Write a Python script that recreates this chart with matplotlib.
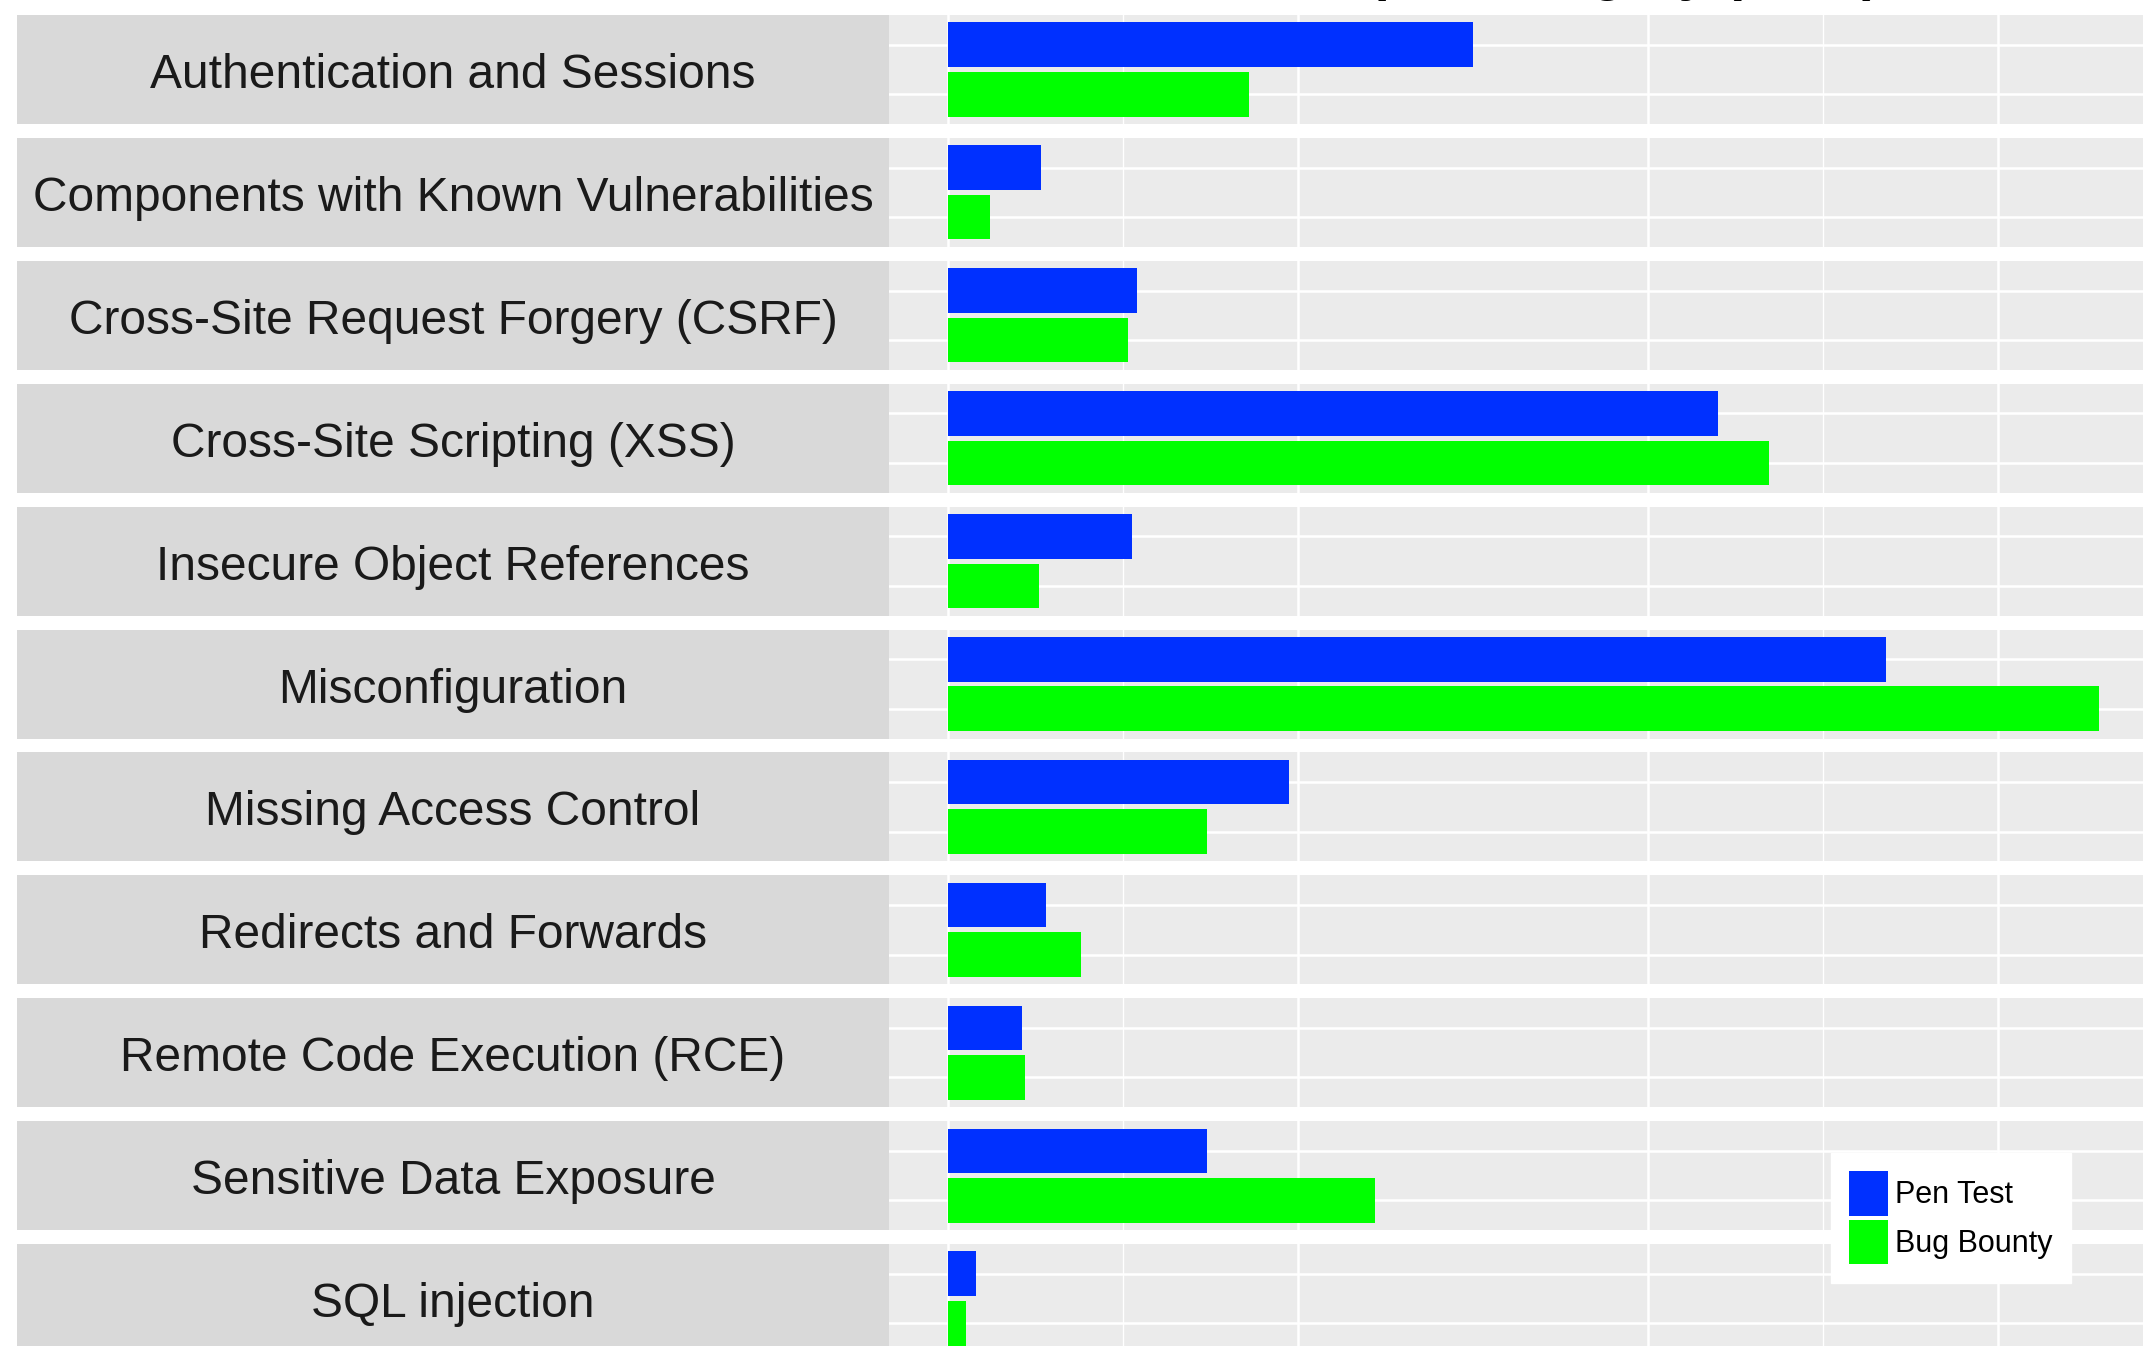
import matplotlib.pyplot as plt
from matplotlib.patches import Patch

# values (share of findings, %)
categories = [
    "Authentication and Sessions",
    "Components with Known Vulnerabilities",
    "Cross-Site Request Forgery (CSRF)",
    "Cross-Site Scripting (XSS)",
    "Insecure Object References",
    "Misconfiguration",
    "Missing Access Control",
    "Redirects and Forwards",
    "Remote Code Execution (RCE)",
    "Sensitive Data Exposure",
    "SQL injection",
]
pen_test = [15.0, 2.65, 5.4, 22.0, 5.25, 26.8, 9.75, 2.8, 2.1, 7.4, 0.8]
bug_bounty = [8.6, 1.2, 5.15, 23.45, 2.6, 32.9, 7.4, 3.8, 2.2, 12.2, 0.5]
series = ["Pen Test", "Bug Bounty"]
colors = ["#0030ff", "#00ff00"]

plt.rcParams['font.family'] = ['Liberation Sans', 'DejaVu Sans']

W, H = 2143, 1346
fig = plt.figure(figsize=(W / 100, H / 100), dpi=100)

# facet layout in pixels
top0 = 15          # top of first panel
step = 122.9       # panel + gap
ph = 109           # panel height
strip_l, strip_r = 17, 889
panel_r = 2157     # panel runs past the right edge (cropped)

for i, cat in enumerate(categories):
    top = top0 + i * step
    bottom = H - (top + ph)

    # strip on the left
    sax = fig.add_axes([strip_l / W, bottom / H, (strip_r - strip_l) / W, ph / H])
    sax.set_facecolor("#d9d9d9")
    sax.set_xlim(0, 1)
    sax.set_ylim(0, 1)
    sax.set_xticks([])
    sax.set_yticks([])
    for s in sax.spines.values():
        s.set_visible(False)
    sax.text(0.5, 0.33, cat, ha="center", va="baseline", fontsize=34.5, color="#1a1a1a")

    # panel
    ax = fig.add_axes([strip_r / W, bottom / H, (panel_r - strip_r) / W, ph / H])
    ax.set_facecolor("#ebebeb")
    ax.barh(2, pen_test[i], height=0.9, color=colors[0], zorder=3)
    ax.barh(1, bug_bounty[i], height=0.9, color=colors[1], zorder=3)
    ax.set_xlim(-1.69, 34.55)
    ax.set_ylim(0.4, 2.6)
    ax.set_xticks([0, 10, 20, 30])
    ax.set_xticks([5, 25], minor=True)
    ax.set_yticks([1, 2])
    ax.grid(which="major", color="white", linewidth=1.8)
    ax.grid(which="minor", axis="x", color="white", linewidth=1.0)
    ax.set_axisbelow(True)
    ax.tick_params(which="both", length=0, labelbottom=False, labelleft=False)
    for s in ax.spines.values():
        s.set_visible(False)

# title, mostly cut off by the top edge
fig.text(1880 / W, 1 + 10 / H, "Vulnerabilities per Category (2017)",
         ha="right", va="baseline", fontsize=39, fontweight="bold")

handles = [Patch(facecolor=colors[0]), Patch(facecolor=colors[1])]
leg = fig.legend(handles, series, loc="upper left",
                 bbox_to_anchor=(1831 / W, 1 - 1153 / H), borderaxespad=0,
                 fontsize=22, frameon=True, fancybox=False, framealpha=1,
                 facecolor="white", edgecolor="white", borderpad=0.6,
                 handlelength=1.25, handleheight=1.85, handletextpad=0.25,
                 labelspacing=0.15)

fig.savefig("out.png", dpi=100, facecolor="white")
